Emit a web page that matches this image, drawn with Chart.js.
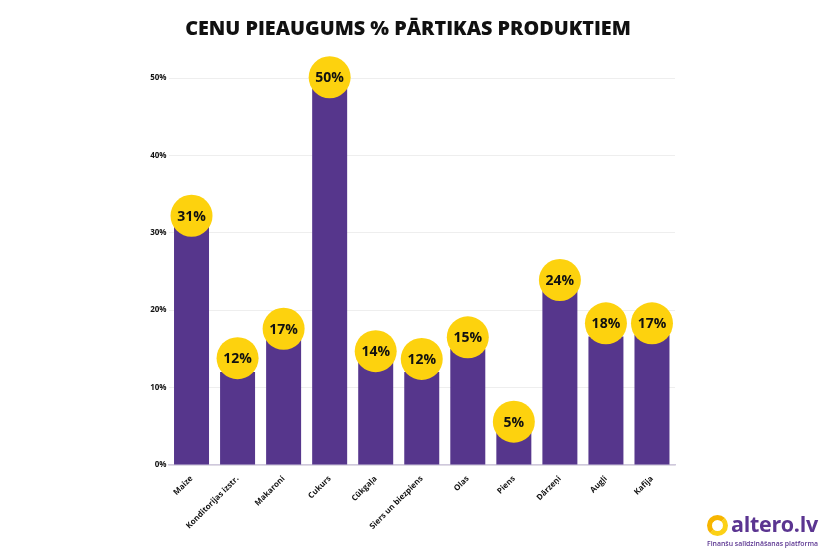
<!DOCTYPE html>
<html>
<head>
<meta charset="utf-8">
<script src="https://cdn.jsdelivr.net/npm/chart.js@4.4.1/dist/chart.umd.min.js"></script>
<style>
  body { margin: 0; background: #fff; }
  #wrap { position: relative; width: 840px; height: 560px; overflow: hidden; }
  #title { position: absolute; left: 0; top: 14px; width: 816px; text-align: center;
    font-family: "Open Sans", sans-serif; font-weight: 800; font-size: 19.8px; color: #111; letter-spacing: 0; }
  #logo { position: absolute; left: 706px; top: 512px; width: 130px; }
  #logoIcon { position: absolute; left: 1px; top: 3px; width: 11px; height: 11px; border-radius: 50%;
    border: 5px solid #f7b500; border-right-color: #fcd116; border-bottom-color: #fcd116; }
  #logoText { position: absolute; left: 25px; top: -3px; font-family: "Open Sans", sans-serif; font-weight: 700;
    font-size: 21.5px; color: #5b3591; letter-spacing: -0.3px; }
  #logoSub { position: absolute; left: 1px; top: 27px; white-space: nowrap; font-family: "Open Sans", sans-serif; font-weight: 600;
    font-size: 6.9px; color: #5b3591; }
</style>
</head>
<body>
<div id="wrap">
  <div id="title">CENU PIEAUGUMS % PĀRTIKAS PRODUKTIEM</div>
  <canvas id="bars" width="840" height="560"></canvas>
  <div id="logo">
    <div id="logoIcon"></div>
    <div id="logoText">altero.lv</div>
    <div id="logoSub">Finanšu salīdzināšanas platforma</div>
  </div>
</div>
<script>
// kategorijas un vērtības
const produkti = ['Maize', 'Konditorijas izstr.', 'Makaroni', 'Cukurs', 'Cūkgaļa', 'Siers un biezpiens', 'Olas', 'Piens', 'Dārzeņi', 'Augļi', 'Kafija'];
const pieaugums = [31, 12, 16.5, 50, 14, 12, 15, 5.2, 24, 16.6, 16.8];
const etiketes = [31, 12, 17, 50, 14, 12, 15, 5, 24, 18, 17];
// apļu centri (% skalā)
const aplisY = [32.2, 13.8, 17.6, 50.1, 14.7, 13.7, 16.5, 5.6, 23.9, 18.3, 18.3];
const yTicks = [0, 10, 20, 30, 40, 50];

const R = 21;

const apluTeksts = {
    id: 'apluTeksts',
    afterDatasetsDraw(chart) {
        const meta = chart.getDatasetMeta(1);
        const ctx = chart.ctx;
        ctx.save();
        ctx.fillStyle = '#111';
        ctx.font = 'bold 14px "Open Sans", sans-serif';
        ctx.textAlign = 'center';
        ctx.textBaseline = 'middle';
        meta.data.forEach(function (el, i) {
            ctx.fillText(etiketes[i] + '%', el.x, el.y + 1);
        });
        ctx.restore();
    }
};

const ctx = document.getElementById('bars').getContext('2d');
const chart = new Chart(ctx, {
    type: 'bar',
    data: {
        labels: produkti,
        datasets: [{
            label: 'Pieaugums',
            data: pieaugums,
            backgroundColor: '#56368c',
            barPercentage: 0.76,
            categoryPercentage: 1,
            order: 2
        }, {
            type: 'bubble',
            label: 'Etiķetes',
            data: produkti.map(function (p, i) { return { x: p, y: aplisY[i], r: R }; }),
            backgroundColor: '#fdd20e',
            borderWidth: 0,
            clip: false,
            order: 1
        }]
    },
    options: {
        responsive: false,
        animation: false,
        layout: { padding: { top: 78, right: 165, left: 0, bottom: 0 } },
        plugins: {
            legend: { display: false },
            tooltip: { enabled: false }
        },
        scales: {
            x: {
                type: 'category',
                offset: true,
                grid: { display: false, drawTicks: false },
                border: { color: '#cfc8dc', width: 1.5 },
                ticks: {
                    minRotation: 45,
                    maxRotation: 45,
                    padding: 9,
                    color: '#111',
                    font: { family: '"Open Sans", sans-serif', weight: 'bold', size: 8 }
                },
                afterFit: function (s) { s.height = 95; }
            },
            y: {
                min: 0,
                max: 50,
                afterBuildTicks: function (s) { s.ticks = yTicks.map(function (v) { return { value: v }; }); },
                grid: { color: '#eeeeee', drawTicks: false },
                border: { display: false },
                ticks: {
                    padding: 2,
                    color: '#111',
                    font: { family: '"Open Sans", sans-serif', weight: 'bold', size: 8 },
                    callback: function (v) { return v + '%'; }
                },
                afterFit: function (s) { s.width = 168.5; }
            }
        }
    },
    plugins: [apluTeksts]
});
</script>
</body>
</html>
